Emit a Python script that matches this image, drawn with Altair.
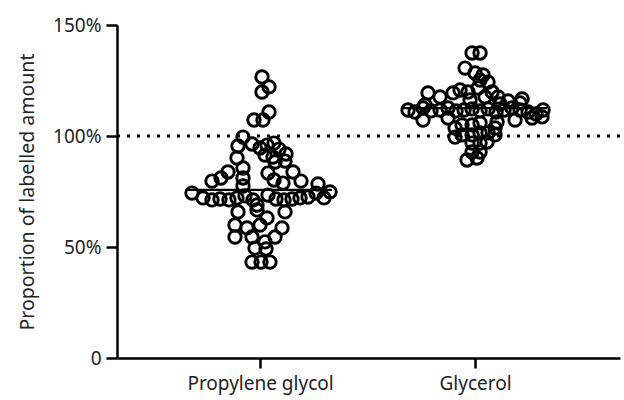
import altair as alt
import pandas as pd

categories = ["Propylene glycol", "Glycerol"]

# Propylene glycol: horizontal swarm spread (pixels-like units) and value (%)
pg_spread = [2, 9, 2, 9, -6, 3,
             -17, -22, -8, 0, 7, 14, 19, 5, 13, 26, 25, 15, -23, -17, -32, -39, -48, -17, 8, 14, 23, 33, 41, -17, 58,
             -68, -57, -48, -40, -31, -23, -15, -7, 8, 16, 24, 32, 40, 48, 56, 64, 70, -3,
             -22, -3, 25, 7, -25, -13, 0, 22, -25, -8, 5, 15, -5, 6, -8, 1, 10]
pg_values = [126.6, 122.1, 119.8, 110.8, 107.2, 107.2,
             99.5, 95.5, 96.4, 94.6, 95.9, 96.8, 94.1, 91.4, 90.5, 91.9, 88.7, 88.3, 90.1, 85.6, 83.8, 81.1, 79.7, 81.1, 83.3, 80.2, 78.8, 83.8, 79.7, 77.5, 78.4,
             74.3, 72.1, 71.2, 71.6, 71.2, 72.1, 73.0, 71.2, 73.4, 71.6, 71.2, 71.6, 72.1, 72.5, 74.3, 72.1, 74.8, 68.9,
             65.8, 66.7, 65.8, 63.1, 59.9, 58.6, 59.9, 58.6, 54.5, 54.5, 52.3, 54.5, 49.5, 49.1, 43.2, 43.2, 43.2]

# Glycerol
gly_spread = [-3, 5, -10, 0, 8, 5, 13,
              -47, -15, -7, 3, 17, 23, 47, -22, -35, 10, -5, 33,
              -67, -60, -52, -44, -35, -27, -19, -11, -3, 5, 13, 21, 29, 37, 45, 53, 61, 68, -50, 25, 45,
              -52, -20, -13, -3, 5, 20, 22, -20, -13, -3, 5, 13, 20, -3, 5, 12, -3, 5, -8, 2, 40, 57, 67, -27]
gly_values = [137.4, 137.4, 130.6, 128.4, 127.5, 125.2, 124.3,
              119.4, 120.7, 119.8, 121.6, 119.8, 117.6, 116.7, 119.4, 117.6, 117.6, 116.2, 115.8,
              111.7, 110.8, 112.6, 111.3, 111.7, 112.6, 111.3, 111.7, 112.2, 111.3, 112.2, 110.8, 111.7, 112.6, 111.7, 110.8, 109.9, 111.7, 114.0, 114.4, 114.9,
              107.2, 103.6, 105.0, 105.0, 105.9, 103.6, 106.3, 99.5, 100.5, 100.5, 101.4, 101.4, 100.5, 96.8, 96.8, 97.3, 92.8, 92.8, 89.2, 90.1, 107.2, 108.1, 108.6, 108.1]

medians = [75.7, 112.6]
reference_level = 100

SPREAD_UNIT = 215.0  # swarm spread units per category step

rows = []
for i, (spread, vals) in enumerate([(pg_spread, pg_values), (gly_spread, gly_values)]):
    for s, v in zip(spread, vals):
        rows.append({"x": i + 1 + s / SPREAD_UNIT, "value": v, "group": categories[i]})
points = pd.DataFrame(rows)

med_df = pd.DataFrame({
    "x": [i + 1 - 0.335 for i in range(2)],
    "x2": [i + 1 + 0.335 for i in range(2)],
    "value": medians,
})
ref_df = pd.DataFrame({"value": [reference_level]})

FONT = "Noto Sans"
XDOM = [0.335, 2.674]
label_expr = "datum.value == 1 ? '%s' : datum.value == 2 ? '%s' : ''" % (categories[0], categories[1])

x_enc = alt.X("x:Q", scale=alt.Scale(domain=XDOM, nice=False, zero=False),
              axis=alt.Axis(values=[1, 2], labelExpr=label_expr, title=None, grid=False,
                            domainColor="black", domainWidth=2.5, tickColor="black",
                            tickWidth=2.5, tickSize=10, labelFontSize=19, labelColor="#222",
                            labelFont=FONT, labelPadding=6))
y_enc = alt.Y("value:Q", scale=alt.Scale(domain=[0, 150], nice=False),
              axis=alt.Axis(values=[0, 50, 100, 150],
                            labelExpr="datum.value == 0 ? '0' : datum.value + '%'",
                            title="Proportion of labelled amount", grid=False,
                            domainColor="black", domainWidth=2.5, tickColor="black",
                            tickWidth=2.5, tickSize=11, labelFontSize=19, labelColor="#222",
                            labelFont=FONT, labelPadding=5, titleFont=FONT,
                            titleFontSize=19.5, titleFontWeight="normal", titleColor="#222",
                            titlePadding=15))

ref = alt.Chart(ref_df).mark_rule(color="black", strokeWidth=3, strokeDash=[3, 7]).encode(
    y=alt.Y("value:Q"),
)

pts = alt.Chart(points).mark_point(shape="circle", filled=False, color="black",
                                   strokeWidth=2.9, size=155, opacity=1).encode(
    x=x_enc, y=y_enc,
)

med = alt.Chart(med_df).mark_rule(color="black", strokeWidth=2.2).encode(
    x=alt.X("x:Q"), x2="x2:Q", y=alt.Y("value:Q"),
)

chart = alt.layer(pts, ref, med).properties(
    width=503, height=333,
    autosize=alt.AutoSizeParams(type="none"),
    padding={"left": 117, "top": 25, "right": 4, "bottom": 42},
    background="white",
).configure_view(stroke=None)

chart.save("out.html", embed_options={"renderer": "svg", "actions": False})
